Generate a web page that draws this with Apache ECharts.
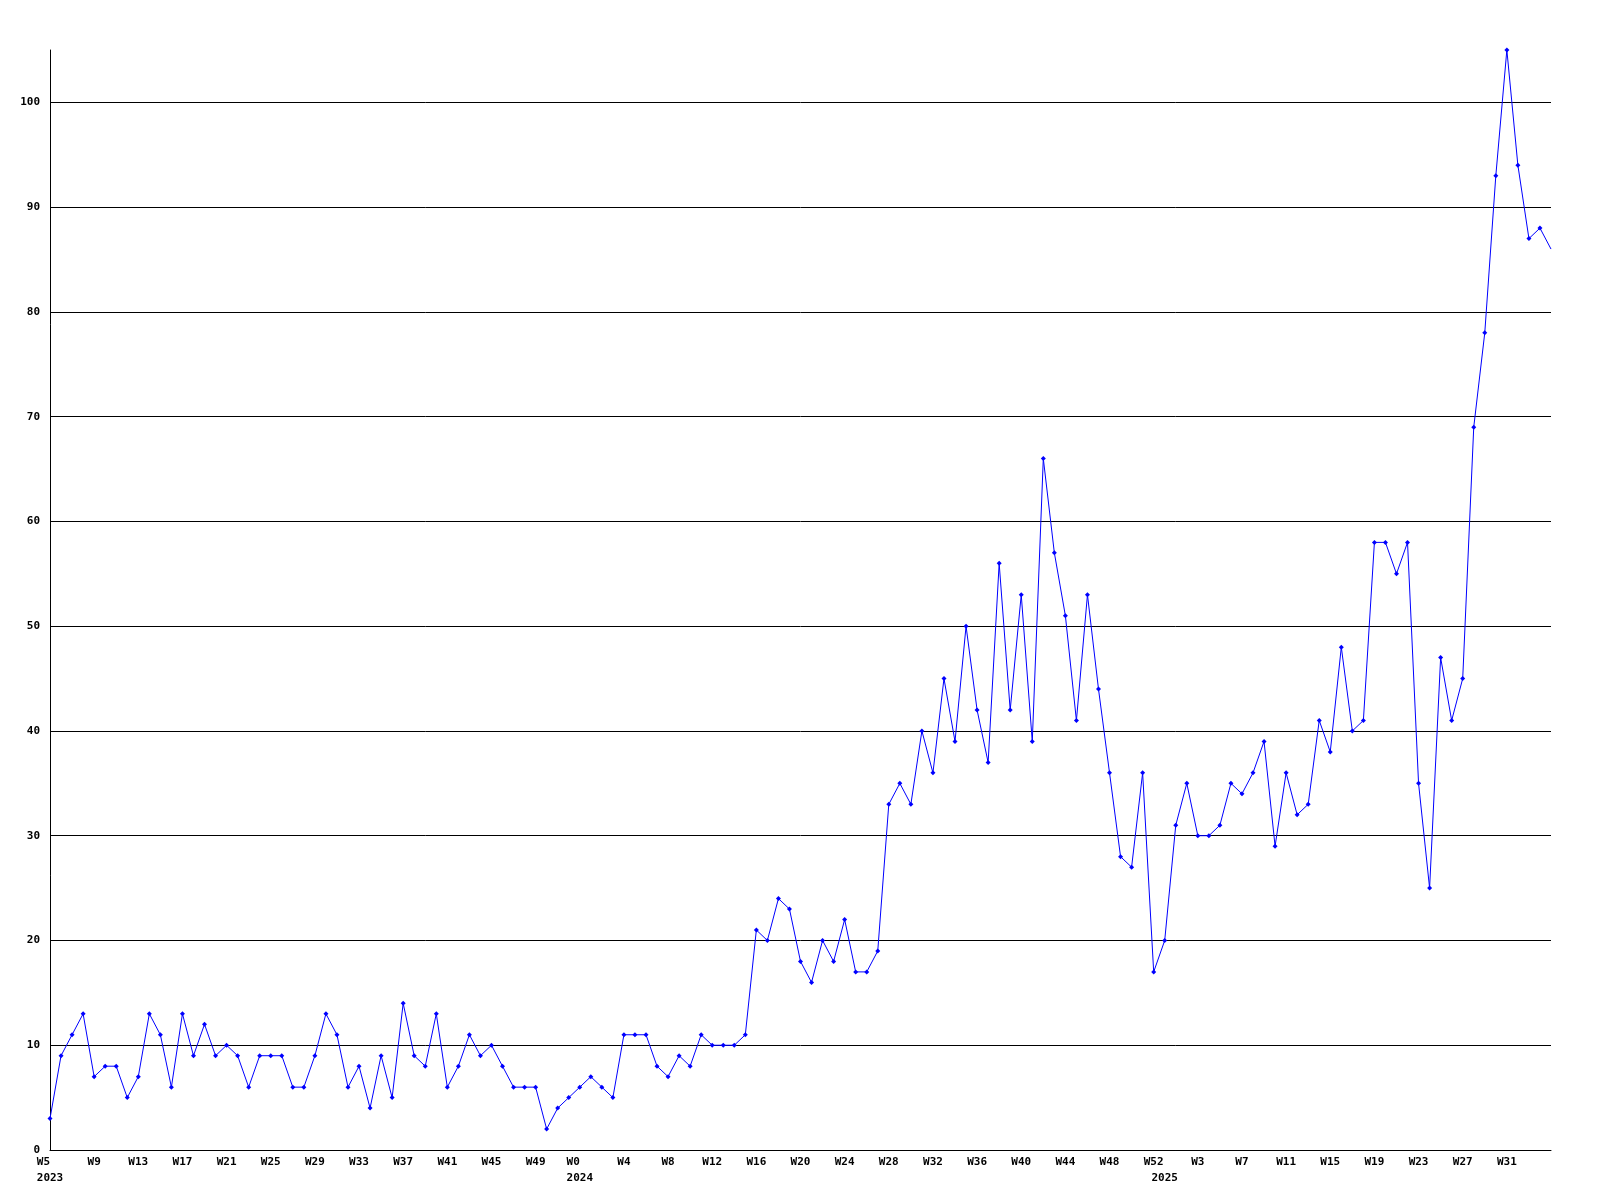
<!DOCTYPE html>
<html><head><meta charset="utf-8">
<script src="https://cdn.jsdelivr.net/npm/echarts@6/dist/echarts.min.js"></script>
<style>html,body{margin:0;padding:0;background:#fff}#c{width:1600px;height:1200px}</style>
</head><body><div id="c"></div>
<script>
// [year, first week, last week]
const yearRanges = [[2023, 5, 52], [2024, 0, 52], [2025, 0, 35]];
const values2023 = [3,9,11,13,7,8,8,5,7,13,11,6,13,9,12,9,10,9,6,9,9,9,6,6,9,13,11,6,8,4,9,5,14,9,8,13,6,8,11,9,10,8,6,6,6,2,4,5];
const values2024 = [6,7,6,5,11,11,11,8,7,9,8,11,10,10,10,11,21,20,24,23,18,16,20,18,22,17,17,19,33,35,33,40,36,45,39,50,42,37,56,42,53,39,66,57,51,41,53,44,36,28,27,36,17];
const values2025 = [20,31,35,30,30,31,35,34,36,39,29,36,32,33,41,38,48,40,41,58,58,55,58,35,25,47,41,45,69,78,93,105,94,87,88,86];
const yTicks = [0,10,20,30,40,50,60,70,80,90,100];
const yMax = 105;
const labelEvery = 4;

const categories = [];
const yearStart = {};
yearRanges.forEach(([y, a, b]) => {
  yearStart[categories.length] = y;
  for (let w = a; w <= b; w++) categories.push(y + '|' + w);
});
const values = values2023.concat(values2024, values2025);
const lastIdx = values.length - 1;
const seriesData = values.map((v, i) => i === lastIdx ? {value: v, symbol: 'none'} : v);

const FONT = '"DejaVu Sans Mono", "Liberation Mono", monospace';
const chart = echarts.init(document.getElementById('c'), null, {renderer: 'canvas'});
chart.setOption({
  animation: false,
  backgroundColor: '#ffffff',
  grid: {left: 50, right: 49, top: 50, bottom: 50, containLabel: false},
  xAxis: {
    type: 'category',
    data: categories,
    boundaryGap: false,
    axisLine: {show: true, lineStyle: {color: '#000', width: 1}},
    axisTick: {show: false},
    splitLine: {show: false},
    axisLabel: {
      interval: (i) => i !== lastIdx && (i % labelEvery === 0 || yearStart[i] !== undefined),
      margin: 4,
      verticalAlign: 'top',
      formatter: (val, i) => {
        const w = val.split('|')[1];
        const wk = i % labelEvery === 0 ? 'W' + w : ' ';
        if (yearStart[i] !== undefined) return '{w|' + wk + '}\n{y|' + yearStart[i] + '}';
        return '{w|' + wk + '}';
      },
      rich: {
        w: {fontFamily: FONT, fontSize: 11, fontWeight: 'bold', color: '#000', lineHeight: 16, align: 'left'},
        y: {fontFamily: FONT, fontSize: 11, fontWeight: 'bold', color: '#000', lineHeight: 16, align: 'left'}
      }
    }
  },
  yAxis: {
    type: 'value',
    min: 0,
    max: yMax,
    interval: 10,
    axisLine: {show: true, lineStyle: {color: '#000', width: 1}},
    axisTick: {show: false},
    splitLine: {show: true, showMaxLine: false, lineStyle: {color: '#000', width: 1}},
    axisLabel: {
      margin: 10,
      showMaxLabel: false,
      fontFamily: FONT, fontSize: 11, fontWeight: 'bold', color: '#000',
      formatter: (v) => yTicks.indexOf(v) >= 0 ? String(v) : ''
    }
  },
  series: [{
    type: 'line',
    data: seriesData,
    color: '#0000ff',
    lineStyle: {color: '#0000ff', width: 1},
    itemStyle: {color: '#0000ff'},
    symbol: 'diamond',
    symbolSize: 5,
    showAllSymbol: true,
    clip: false
  }]
});
</script>
</body></html>
